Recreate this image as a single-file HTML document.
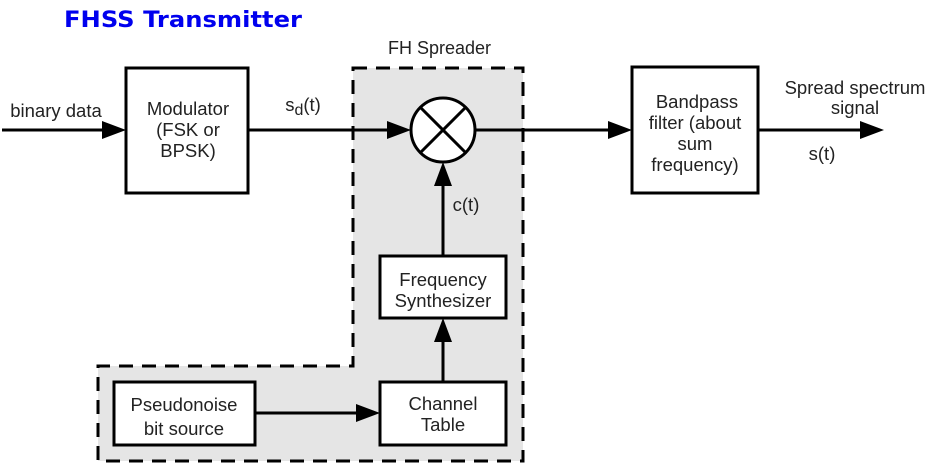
<!DOCTYPE html>
<html><head><style>body{margin:0;background:#fff}svg{display:block}</style></head><body>
<svg width="938" height="472" viewBox="0 0 938 472" xmlns="http://www.w3.org/2000/svg" font-family="Liberation Sans, Arial, sans-serif">
<text x="64" y="27" font-family="DejaVu Sans, sans-serif" font-weight="bold" font-size="22" fill="#0000ee" textLength="238" lengthAdjust="spacingAndGlyphs">FHSS Transmitter</text>
<path d="M353 68 H523 V461 H98 V366 H353 Z" fill="#e5e5e5"/>
<path d="M353 68 H523 V461 H98 V366 H353 Z" fill="none" stroke="#000" stroke-width="3" stroke-dasharray="14,9"/>
<text x="388" y="54" font-size="18" fill="#222">FH Spreader</text>
<g stroke="#000" stroke-width="3" fill="#fff">
<rect x="126" y="68" width="122" height="125"/>
<rect x="632" y="67" width="126" height="126"/>
<rect x="380" y="256" width="126" height="62"/>
<rect x="380" y="382" width="126" height="63"/>
<rect x="114" y="382" width="141" height="63"/>
<circle cx="443" cy="130" r="32"/>
</g>
<g stroke="#000" stroke-width="3" fill="none">
<line x1="420" y1="107" x2="466" y2="153"/><line x1="466" y1="107" x2="420" y2="153"/>
<line x1="2" y1="130" x2="110" y2="130"/>
<line x1="248" y1="130" x2="396" y2="130"/>
<line x1="475" y1="130" x2="614" y2="130"/>
<line x1="758" y1="130" x2="868" y2="130"/>
<line x1="443" y1="256" x2="443" y2="180"/>
<line x1="443" y1="382" x2="443" y2="336"/>
<line x1="255" y1="413" x2="362" y2="413"/>
</g>
<g fill="#000">
<polygon points="126,130 102,121 102,139"/>
<polygon points="411,130 387,121 387,139"/>
<polygon points="632,130 608,121 608,139"/>
<polygon points="884,130 860,121 860,139"/>
<polygon points="443,162 434,186 452,186"/>
<polygon points="443,318 434,342 452,342"/>
<polygon points="380,413 356,404 356,422"/>
</g>
<g font-size="18.5" fill="#222" text-anchor="middle">
<text x="56" y="117">binary data</text>
<text x="188" y="115">Modulator</text><text x="188" y="136">(FSK or</text><text x="188" y="157">BPSK)</text>
<text x="303" y="111">s<tspan font-size="16" dy="4">d</tspan><tspan dy="-4">(t)</tspan></text>
<text x="466" y="211">c(t)</text>
<text x="443" y="286">Frequency</text><text x="443" y="307">Synthesizer</text>
<text x="443" y="410">Channel</text><text x="443" y="431">Table</text>
<text x="184" y="411">Pseudonoise</text><text x="184" y="435">bit source</text>
<text x="697" y="108">Bandpass</text><text x="695" y="129">filter (about</text><text x="695" y="150">sum</text><text x="695" y="171">frequency)</text>
<text x="855" y="94">Spread spectrum</text><text x="855" y="114">signal</text>
<text x="822" y="160">s(t)</text>
</g>
</svg>
</body></html>
